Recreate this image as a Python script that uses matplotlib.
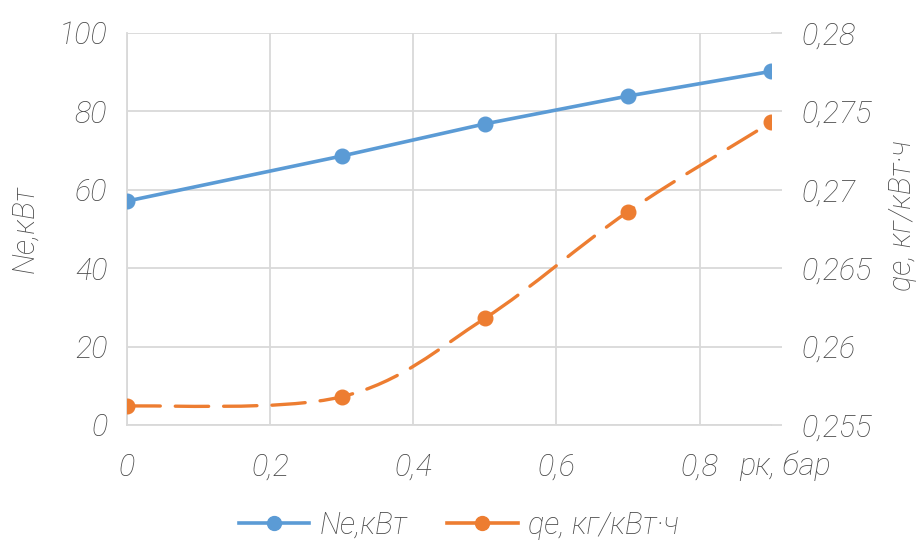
import numpy as np
import matplotlib
matplotlib.use("Agg")
import matplotlib.pyplot as plt
from matplotlib.path import Path
from matplotlib.patches import PathPatch
from matplotlib.lines import Line2D

# Data
pk = [0, 0.3, 0.5, 0.7, 0.9]          # рк, бар
ne = [57.1, 68.6, 76.8, 83.9, 90.2]   # Ne, кВт
qe = [0.2562, 0.2568, 0.2618, 0.2686, 0.2743]  # qe, кг/кВт·ч

x_ticks = [0, 0.2, 0.4, 0.6, 0.8]
x_labels = ["0", "0,2", "0,4", "0,6", "0,8"]
ne_ticks = [0, 20, 40, 60, 80, 100]
qe_ticks = [0.255, 0.26, 0.265, 0.27, 0.275, 0.28]
qe_labels = ["0,255", "0,26", "0,265", "0,27", "0,275", "0,28"]

BLUE = "#5B9BD5"
ORANGE = "#ED7D31"
GRID = "#D9D9D9"
TEXT = "#4A4A4A"

plt.rcParams['font.family'] = ['Roboto', 'DejaVu Sans']
plt.rcParams['font.style'] = 'italic'
plt.rcParams['font.weight'] = 'light'
FS = 22


# Excel-like smoothed line: cubic bezier through the points
def smooth_path(xs, ys):
    pts = list(zip(xs, ys))
    n = len(pts)
    verts = [pts[0]]
    codes = [Path.MOVETO]
    for i in range(n - 1):
        p0 = pts[i - 1] if i > 0 else pts[i]
        p1 = pts[i]
        p2 = pts[i + 1]
        p3 = pts[i + 2] if i + 2 < n else pts[i + 1]
        c1 = (p1[0] + (p2[0] - p0[0]) / 6, p1[1] + (p2[1] - p0[1]) / 6)
        c2 = (p2[0] - (p3[0] - p1[0]) / 6, p2[1] - (p3[1] - p1[1]) / 6)
        verts += [c1, c2, p2]
        codes += [Path.CURVE4] * 3
    return Path(verts, codes)


fig = plt.figure(figsize=(9.18, 5.4), dpi=100)
ax = fig.add_axes([0.1383, 0.213, 0.7017, 0.726])
ax2 = ax.twinx()

ax.set_xlim(0, 0.9)
ax.set_ylim(0, 100)
ax2.set_ylim(0.255, 0.28)

ax.set_xticks(x_ticks)
ax.set_xticklabels(x_labels)
ax.set_yticks(ne_ticks)
ax2.set_yticks(qe_ticks)
ax2.set_yticklabels(qe_labels)

# grid
ax.grid(True, color=GRID, linewidth=1.3)
ax.set_axisbelow(True)
for a in (ax, ax2):
    for s in a.spines.values():
        s.set_visible(False)
ax.spines['left'].set_visible(True)
ax.spines['bottom'].set_visible(True)
ax.spines['left'].set_color(GRID)
ax.spines['bottom'].set_color(GRID)
ax.spines['left'].set_linewidth(1.3)
ax.spines['bottom'].set_linewidth(1.3)

ax.tick_params(axis='both', length=0, labelsize=FS, labelcolor=TEXT)
ax.tick_params(axis='x', pad=20)
ax.tick_params(axis='y', pad=14)
ax2.tick_params(axis='y', length=8, width=1.3, color=GRID, direction='out',
                labelsize=FS, labelcolor=TEXT, pad=14)

# Ne line
ax.plot(pk, ne, color=BLUE, linewidth=2.6, marker='o', markersize=10.5, zorder=3)

# qe smoothed dashed line
patch = PathPatch(smooth_path(pk, qe), facecolor='none', edgecolor=ORANGE,
                  linewidth=2.4, linestyle=(0, (10, 4.5)), capstyle='round', zorder=3)
ax2.add_patch(patch)
ax2.plot(pk, qe, linestyle='none', color=ORANGE, marker='o', markersize=10.5, zorder=4)

# axis labels
fig.text(0.027, 0.575, "Ne,кВт", rotation=90, ha='center', va='center',
         fontsize=FS, color=TEXT)
fig.text(0.983, 0.60, "qe, кг/кВт·ч", rotation=90, ha='center', va='center',
         fontsize=FS, color=TEXT)
ax.text(0.855, -0.066, "рк, бар", transform=ax.get_xaxis_transform(),
        ha='left', va='top', fontsize=FS, color=TEXT)

# legend
handles = [
    Line2D([], [], color=BLUE, linewidth=2.6, marker='o', markersize=10),
    Line2D([], [], color=ORANGE, linewidth=2.6, marker='o', markersize=10),
]
fig.legend(handles, ["Ne,кВт", "qe, кг/кВт·ч"], loc='lower center',
           bbox_to_anchor=(0.5, -0.05), ncol=2, frameon=False,
           fontsize=FS, labelcolor=TEXT, handlelength=2.3, columnspacing=1.3,
           handletextpad=0.35)

fig.savefig("out.png", dpi=100)
